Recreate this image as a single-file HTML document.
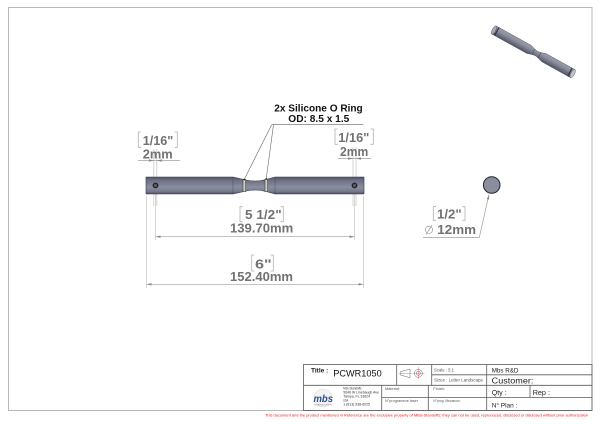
<!DOCTYPE html>
<html><head><meta charset="utf-8"><style>
html,body{margin:0;padding:0;background:#fff;}
svg{display:block;}
text{font-family:"Liberation Sans",sans-serif;}
</style></head><body>
<svg width="600" height="424" viewBox="0 0 600 424" xmlns="http://www.w3.org/2000/svg">
<defs>
<linearGradient id="sg" gradientUnits="userSpaceOnUse" x1="0" y1="177" x2="0" y2="194">
<stop offset="0" stop-color="#52556a"/><stop offset="0.18" stop-color="#6b6e82"/><stop offset="0.6" stop-color="#8b8ea0"/><stop offset="0.85" stop-color="#777a8c"/><stop offset="1" stop-color="#4c4f60"/>
</linearGradient>
<linearGradient id="ig" x1="0" y1="0" x2="0" y2="1">
<stop offset="0" stop-color="#9a9dac"/><stop offset="0.4" stop-color="#8a8d9c"/><stop offset="1" stop-color="#4f5262"/>
</linearGradient>
</defs>
<rect x="0" y="0" width="600" height="424" fill="#fff"/>
<!-- page border -->
<rect x="8.5" y="7.5" width="583.5" height="403" fill="none" stroke="#b8b8b8" stroke-width="1"/>

<!-- extension lines -->
<g stroke="#c4c4c4" stroke-width="0.7">
<line x1="153.8" y1="149" x2="153.8" y2="206"/>
<line x1="156.8" y1="149" x2="156.8" y2="206"/>
<line x1="155.5" y1="194" x2="155.5" y2="240"/>
<line x1="146.5" y1="196" x2="146.5" y2="288"/>
<line x1="353" y1="147" x2="353" y2="206"/>
<line x1="356" y1="147" x2="356" y2="206"/>
<line x1="354.5" y1="194" x2="354.5" y2="240"/>
<line x1="363.5" y1="196" x2="363.5" y2="288"/>
</g>

<!-- main shaft -->
<path d="M146,177 L233,177 L244,179.5 Q255,182.5 266,179.5 L275,177 L364,177 L364,194 L275,194 L266,191.5 Q255,188.5 244,191.5 L233,194 L146,194 Z" fill="url(#sg)" stroke="#35374a" stroke-width="0.6"/>
<g stroke="#4a4c5c" stroke-width="0.5"><line x1="233" y1="177" x2="233" y2="194"/><line x1="275" y1="177" x2="275" y2="194"/></g>
<rect x="243" y="179.3" width="2.6" height="12.4" fill="#cfcdbd" stroke="#2e2f38" stroke-width="0.5"/>
<rect x="265" y="179.3" width="2.6" height="12.4" fill="#cfcdbd" stroke="#2e2f38" stroke-width="0.5"/>
<circle cx="155.5" cy="185.5" r="2.3" fill="#55585f" stroke="#1e1e24" stroke-width="1.2"/>
<circle cx="354.5" cy="185.5" r="2.3" fill="#55585f" stroke="#1e1e24" stroke-width="1.2"/>

<!-- O-ring note -->
<text x="274.3" y="111.7" font-size="10" font-weight="bold" fill="#111" textLength="88.4" lengthAdjust="spacingAndGlyphs">2x Silicone O Ring</text>
<text x="288.3" y="122.2" font-size="10" font-weight="bold" fill="#111" textLength="61" lengthAdjust="spacingAndGlyphs">OD: 8.5 x 1.5</text>
<g stroke="#666" stroke-width="0.6" fill="none">
<line x1="271.7" y1="124.6" x2="363.3" y2="124.6"/>
<line x1="271.7" y1="124.6" x2="244.2" y2="179.5"/>
<line x1="273.5" y1="124.6" x2="266.2" y2="179"/>
</g>
<circle cx="244.2" cy="179.5" r="0.9" fill="#222"/><circle cx="266.2" cy="179" r="0.9" fill="#222"/>

<!-- brackets -->
<g stroke="#b0b0b0" stroke-width="0.8" fill="none">
<path d="M141,132 H138.3 V147.3 H141"/><path d="M174.6,132 H177.3 V147.3 H174.6"/>
<path d="M337.7,129 H335 V144.3 H337.7"/><path d="M370.6,129 H373.3 V144.3 H370.6"/>
<path d="M242.7,206.7 H240 V221.7 H242.7"/><path d="M280.6,206.7 H283.3 V221.7 H280.6"/>
<path d="M254.4,255 H251.7 V271 H254.4"/><path d="M270.6,255 H273.3 V271 H270.6"/>
<path d="M436,206.7 H433.3 V220.3 H436"/><path d="M462.3,206.7 H465 V220.3 H462.3"/>
</g>

<!-- dimension lines -->
<g stroke="#a0a0a0" stroke-width="0.7">
<line x1="138" y1="160.5" x2="180" y2="160.5"/>
<line x1="338" y1="158.5" x2="371" y2="158.5"/>
<line x1="155.5" y1="236.7" x2="354.5" y2="236.7"/>
<line x1="146.5" y1="284.3" x2="363.5" y2="284.3"/>
<polyline points="423,237.5 479.3,237.5 489,194.5" fill="none"/>
</g>
<g fill="#8a8a8a">
<polygon points="153.8,160.5 148.8,159.3 148.8,161.7"/><polygon points="156.8,160.5 161.8,159.3 161.8,161.7"/>
<polygon points="353,158.5 348,157.3 348,159.7"/><polygon points="356,158.5 361,157.3 361,159.7"/>
<polygon points="155.5,236.7 160.5,235.5 160.5,237.9"/><polygon points="354.5,236.7 349.5,235.5 349.5,237.9"/>
<polygon points="146.5,284.3 151.5,283.1 151.5,285.5"/><polygon points="363.5,284.3 358.5,283.1 358.5,285.5"/>
<polygon points="489,194.5 489.1,199.6 486.8,199.1"/>
</g>

<!-- dimension texts -->
<g font-size="13" font-weight="bold" fill="#727272">
<text x="142.7" y="145" textLength="30.6" lengthAdjust="spacingAndGlyphs">1/16"</text>
<text x="142.7" y="158.5" textLength="30" lengthAdjust="spacingAndGlyphs">2mm</text>
<text x="338.3" y="142" textLength="31" lengthAdjust="spacingAndGlyphs">1/16"</text>
<text x="340" y="156" textLength="28.3" lengthAdjust="spacingAndGlyphs">2mm</text>
<text x="245" y="219" textLength="36.7" lengthAdjust="spacingAndGlyphs">5 1/2"</text>
<text x="230" y="232.5" textLength="63.3" lengthAdjust="spacingAndGlyphs">139.70mm</text>
<text x="255" y="268.3" textLength="16.7" lengthAdjust="spacingAndGlyphs">6"</text>
<text x="230" y="281" textLength="63" lengthAdjust="spacingAndGlyphs">152.40mm</text>
<text x="437" y="218.3" textLength="24.7" lengthAdjust="spacingAndGlyphs">1/2"</text>
<text x="437.3" y="234" textLength="38.7" lengthAdjust="spacingAndGlyphs">12mm</text>
</g>
<g stroke="#a8a8a8" stroke-width="0.8" fill="none">
<circle cx="429" cy="229.8" r="3.6"/><line x1="426" y1="234.5" x2="432" y2="225"/>
</g>

<!-- end view circle -->
<circle cx="491.7" cy="185" r="8.3" fill="#8a8d9d" stroke="#25262c" stroke-width="1"/>

<!-- iso view -->
<g transform="translate(494,30) rotate(29)">
<path d="M0,-4.6 L40,-4.6 L45,-3 Q48.5,-1.9 52,-3 L57,-4.6 L90,-4.6 L90,4.6 L57,4.6 L52,3 Q48.5,1.9 45,3 L40,4.6 L0,4.6 Z" fill="url(#ig)" stroke="#4a4c58" stroke-width="0.4"/>
<ellipse cx="0" cy="0" rx="1.8" ry="4.6" fill="#a5a8b5" stroke="#4a4c58" stroke-width="0.4"/>
<ellipse cx="90" cy="0" rx="1.8" ry="4.6" fill="#c4c6ce" stroke="#4a4c58" stroke-width="0.4"/>
<line x1="3.2" y1="-4.6" x2="3.2" y2="4.6" stroke="#2e2f38" stroke-width="1.1"/>
<line x1="86.8" y1="-4.6" x2="86.8" y2="4.6" stroke="#2e2f38" stroke-width="1.1"/>
<line x1="45" y1="-3" x2="45" y2="3" stroke="#3a3b44" stroke-width="0.5"/>
<line x1="52" y1="-3" x2="52" y2="3" stroke="#3a3b44" stroke-width="0.5"/>
</g>

<!-- title block -->
<g stroke="#5a5a5a" stroke-width="0.8" fill="none">
<rect x="303.5" y="364.5" width="288.5" height="46"/>
<line x1="303.5" y1="385.3" x2="592" y2="385.3"/>
<line x1="396.7" y1="364.5" x2="396.7" y2="385.3"/>
<line x1="431.7" y1="364.5" x2="431.7" y2="385.3"/>
<line x1="486.7" y1="364.5" x2="486.7" y2="410.5"/>
<line x1="431.7" y1="374.8" x2="592" y2="374.8"/>
<line x1="381.7" y1="385.3" x2="381.7" y2="410.5"/>
<line x1="428.3" y1="385.3" x2="428.3" y2="410.5"/>
<line x1="381.7" y1="397.5" x2="592" y2="397.5"/>
<line x1="530" y1="385.3" x2="530" y2="397.5"/>
</g>
<text x="311" y="372.3" font-size="6.5" font-weight="bold" fill="#222" textLength="17.3" lengthAdjust="spacingAndGlyphs">Title :</text>
<text x="333.3" y="376.7" font-size="9.5" fill="#111" textLength="48.4" lengthAdjust="spacingAndGlyphs">PCWR1050</text>
<!-- projection symbol -->
<g fill="none" stroke="#666" stroke-width="0.5">
<polygon points="400.5,371.7 410,369 410,377.7 400.5,375"/>
<circle cx="418.3" cy="373.3" r="4"/><circle cx="418.3" cy="373.3" r="2"/>
</g>
<g stroke="#e05050" stroke-width="0.4"><line x1="412.5" y1="373.3" x2="424.5" y2="373.3"/><line x1="418.3" y1="367.3" x2="418.3" y2="379.3"/><line x1="399" y1="373.3" x2="411.5" y2="373.3"/></g>

<g font-size="4.5" fill="#555">
<text x="434" y="371.5" textLength="20" lengthAdjust="spacingAndGlyphs">Scale : 5:1</text>
<text x="434" y="381.5" textLength="49" lengthAdjust="spacingAndGlyphs">Sizes : Letter Landscape</text>
<text x="385" y="389.8" font-size="4" textLength="15" lengthAdjust="spacingAndGlyphs">Material:</text>
<text x="385" y="401.8" font-size="4" textLength="33" lengthAdjust="spacingAndGlyphs">N°programme laser</text>
<text x="433.3" y="389.8" font-size="4" textLength="11.7" lengthAdjust="spacingAndGlyphs">Finish:</text>
<text x="433.3" y="401.8" font-size="4" textLength="27.4" lengthAdjust="spacingAndGlyphs">N°prog. Mecanum.</text>
</g>
<g fill="#222">
<text x="491.7" y="372.3" font-size="6.5" textLength="26.7" lengthAdjust="spacingAndGlyphs">Mbs R&amp;D</text>
<text x="491.7" y="383.3" font-size="8.5" textLength="41.7" lengthAdjust="spacingAndGlyphs">Customer:</text>
<text x="491.7" y="395" font-size="7.5" textLength="15" lengthAdjust="spacingAndGlyphs">Qty :</text>
<text x="532.7" y="395" font-size="7.5" textLength="17.3" lengthAdjust="spacingAndGlyphs">Rep :</text>
<text x="491.7" y="407.3" font-size="6.5" textLength="25.7" lengthAdjust="spacingAndGlyphs">N° Plan :</text>
</g>
<!-- address -->
<g font-size="3.8" fill="#333">
<text x="343.3" y="389.5" textLength="18.3" lengthAdjust="spacingAndGlyphs">Mbs Standoffs</text>
<text x="343.3" y="393.5" textLength="35.7" lengthAdjust="spacingAndGlyphs">5646 W Linebaugh Ave</text>
<text x="343.3" y="397.5" textLength="26.7" lengthAdjust="spacingAndGlyphs">Tampa, FL 33624</text>
<text x="343.3" y="401.5" textLength="5" lengthAdjust="spacingAndGlyphs">USA</text>
<text x="343.3" y="405.5" textLength="26.7" lengthAdjust="spacingAndGlyphs">1 (813) 938-6025</text>
</g>
<!-- logo -->
<circle cx="323" cy="398" r="9" fill="#f2f2f2" stroke="#e0e0e0" stroke-width="0.6"/>
<text x="313.5" y="402" font-size="10" font-weight="bold" font-style="italic" fill="#2a4f94" textLength="19.5" lengthAdjust="spacingAndGlyphs">mbs</text>
<text x="314" y="405.5" font-size="2.2" fill="#888" textLength="18" lengthAdjust="spacingAndGlyphs">STANDOFFS</text>

<!-- disclaimer -->
<text x="265" y="416.3" font-size="3.7" fill="#e02020" textLength="323" lengthAdjust="spacingAndGlyphs">This document and the product mentioned in Reference are the exclusive property of MBS-Standoffs; they can not be used, reproduced, disclosed or disclosed without prior authorization</text>
</svg>
</body></html>
